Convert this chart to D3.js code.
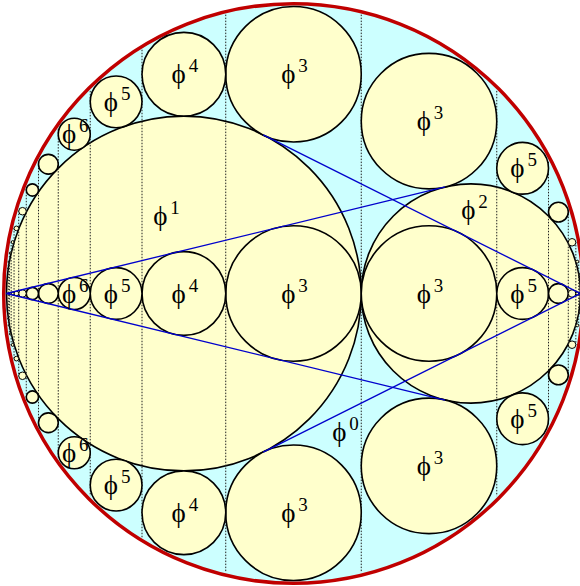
<!DOCTYPE html>
<html>
<head>
<meta charset="utf-8">
<script src="https://cdn.jsdelivr.net/npm/d3@7"></script>
<style>
  html, body { margin: 0; padding: 0; background: #fff; }
  svg { display: block; }
  text { font-family: "Liberation Serif", "DejaVu Serif", serif; fill: #000; }
</style>
</head>
<body>
<svg id="chart" width="580" height="586"></svg>
<script>
// Golden-ratio circle packing: an outer circle of diameter 1 holds two circles of
// diameters phi^-1 and phi^-2; each holds a chain of circles of diameter phi^-n,
// mirrored by a twin chain in the gaps next to the outer rim.
const PHI = (1 + Math.sqrt(5)) / 2;

const leftChainPowers = [3, 4, 5, 6, 7, 8, 9, 10, 11, 12, 13, 14];  // inside phi^1
const rightChainPowers = [3, 5, 7, 9, 11, 13, 15];                  // inside phi^2
const labelledPowers = [3, 4, 5, 6];                                 // chain circles with a label
const bigLabels = ["0", "1", "2"];                                   // superscripts of the big labels

const svg = d3.select("#chart");

// unit coordinates: x from 0 (left vertex) to 1 (right vertex), y centred on the axis
const x = d3.scaleLinear().domain([0, 1]).range([6.5, 580.5]);
const y = d3.scaleLinear().domain([-0.5, 0.5]).range([293.5 - 287, 293.5 + 287]);
const len = d => x(d) - x(0);

// chain circles: left chain runs leftwards from the tangency point phi^-1,
// right chain runs rightwards from it
function chain(powers, dir) {
  let u = 1 / PHI;
  return powers.map(p => {
    const d = Math.pow(PHI, -p);
    const c = u + dir * d / 2;
    u += dir * d;
    return { p, cx: c, r: d / 2, far: u };
  });
}
const left = chain(leftChainPowers, -1);
const right = chain(rightChainPowers, 1);
const chainCircles = left.concat(right);

// twin circles: same x and radius, internally tangent to the outer circle
const twins = [];
chainCircles.forEach(c => {
  const v = Math.sqrt(Math.pow(0.5 - c.r, 2) - Math.pow(c.cx - 0.5, 2));
  twins.push({ p: c.p, cx: c.cx, cy: -v, r: c.r });
  twins.push({ p: c.p, cx: c.cx, cy: v, r: c.r });
});

// the two big circles, diameters phi^-1 and phi^-2
const big = [
  { p: 1, cx: 1 / (2 * PHI), r: 1 / (2 * PHI) },
  { p: 2, cx: 1 / PHI + 1 / (2 * PHI * PHI), r: 1 / (2 * PHI * PHI) }
];

// outer circle with rim
svg.append("circle")
  .attr("cx", x(0.5)).attr("cy", y(0))
  .attr("r", len(0.5) + 2.8)
  .attr("fill", "#ccffff")
  .attr("stroke", "#c00000")
  .attr("stroke-width", 3.5);

// big circles
svg.selectAll("circle.big").data(big).join("circle")
  .attr("class", "big")
  .attr("cx", d => x(d.cx)).attr("cy", y(0)).attr("r", d => len(d.r))
  .attr("fill", "#ffffcc").attr("stroke", "#000").attr("stroke-width", 1.6);

// dotted verticals through every tangency point on the axis
const tangencies = [1 / PHI].concat(left.map(c => c.far).slice(0, -1), right.map(c => c.far).slice(0, -1));
svg.selectAll("line.tick").data(tangencies).join("line")
  .attr("class", "tick")
  .attr("x1", d => x(d)).attr("x2", d => x(d))
  .attr("y1", d => y(-Math.sqrt(0.25 - Math.pow(d - 0.5, 2))))
  .attr("y2", d => y(Math.sqrt(0.25 - Math.pow(d - 0.5, 2))))
  .attr("stroke", "#222").attr("stroke-width", 1)
  .attr("stroke-dasharray", "1.5,1.5");

// chain and twin circles
const small = chainCircles.map(c => ({ p: c.p, cx: c.cx, cy: 0, r: c.r })).concat(twins);
svg.selectAll("circle.small").data(small).join("circle")
  .attr("class", "small")
  .attr("cx", d => x(d.cx)).attr("cy", d => y(d.cy)).attr("r", d => len(d.r))
  .attr("fill", "#ffffcc").attr("stroke", "#000")
  .attr("stroke-width", d => len(d.r) < 4 ? 1 : 1.6);

// common tangents of each chain, from its vertex to the tangency of the big
// circle of the other chain with its twin
function tangencyPoint(bigC, twin) {
  const dx = twin.cx - bigC.cx, dy = twin.cy;
  const dist = Math.hypot(dx, dy);
  return [bigC.cx + dx / dist * bigC.r, dy / dist * bigC.r];
}
const leftTwin3 = twins.filter(t => t.p === 3 && t.cx < 0.6);
const rightTwin3 = twins.filter(t => t.p === 3 && t.cx > 0.6);
const rays = [];
rightTwin3.forEach(t => rays.push([[0, 0], tangencyPoint(big[1], t)]));
leftTwin3.forEach(t => rays.push([[1, 0], tangencyPoint(big[0], t)]));
svg.selectAll("line.ray").data(rays).join("line")
  .attr("class", "ray")
  .attr("x1", d => x(d[0][0])).attr("y1", d => y(d[0][1]))
  .attr("x2", d => x(d[1][0])).attr("y2", d => y(d[1][1]))
  .attr("stroke", "#0000cc").attr("stroke-width", 1.3);

// labels: phi with a raised power
function phiLabel(px, py, sup) {
  const t = svg.append("text")
    .attr("x", px).attr("y", py)
    .attr("text-anchor", "middle")
    .attr("font-size", 27);
  t.append("tspan").text("\u03d5");
  t.append("tspan").attr("dx", 3).attr("dy", -11).attr("font-size", 19).text(sup);
}
small.filter(d => labelledPowers.includes(d.p))
  .forEach(d => phiLabel(x(d.cx) + 1, y(d.cy) + 9, String(d.p)));

phiLabel(x(0) + 160, y(0) - 69, bigLabels[1]);
phiLabel(x(0) + 468, y(0) - 75, bigLabels[2]);
phiLabel(x(0) + 339, y(0) + 147, bigLabels[0]);
</script>
</body>
</html>
